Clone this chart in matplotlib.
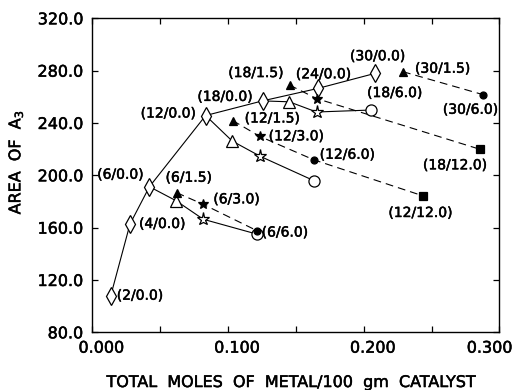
"""
Peak area of A3 against total metal loading.
Open symbols / solid lines and filled symbols / dashed lines,
each point labelled (first metal wt% / second metal wt%).
"""

import matplotlib
matplotlib.use("Agg")
import matplotlib.pyplot as plt
import matplotlib.patheffects as pe
from matplotlib.transforms import ScaledTranslation

# ── data ──────────────────────────────────────────────────────────────────────
# single-metal catalysts (open diamonds)
DIA_COMP = ["2/0.0", "4/0.0", "6/0.0", "12/0.0", "18/0.0", "24/0.0", "30/0.0"]
DIA_X = [0.0136, 0.0278, 0.0421, 0.0835, 0.1254, 0.1665, 0.2086]
DIA_Y = [108.0, 162.8, 191.3, 245.7, 256.9, 266.5, 278.0]

# open symbols, solid lines
OTRI_COMP = ["6/1.5", "12/1.5", "18/1.5"]
OTRI_X = [0.0617, 0.1031, 0.1451]
OTRI_Y = [180.6, 226.2, 256.2]

OSTAR_COMP = ["6/3.0", "12/3.0", "18/3.0"]
OSTAR_X = [0.0818, 0.1238, 0.1652]
OSTAR_Y = [166.4, 214.5, 248.4]

OCIRC_COMP = ["6/6.0", "12/6.0", "18/6.0"]
OCIRC_X = [0.1211, 0.1633, 0.2051]
OCIRC_Y = [155.1, 195.9, 249.9]

# filled symbols, dashed lines
FTRI_COMP = ["6/1.5", "12/1.5", "18/1.5", "30/1.5"]
FTRI_X = [0.0622, 0.1034, 0.1453, 0.2289]
FTRI_Y = [186.7, 241.9, 269.0, 279.2]

FSTAR_COMP = ["6/3.0", "12/3.0", "18/3.0"]
FSTAR_X = [0.0818, 0.1233, 0.1652]
FSTAR_Y = [177.8, 229.8, 258.7]

FCIRC_COMP = ["6/6.0", "12/6.0", "30/6.0"]
FCIRC_X = [0.1211, 0.1631, 0.2881]
FCIRC_Y = [157.8, 211.9, 261.6]

FSQ_COMP = ["12/12.0", "18/12.0"]
FSQ_X = [0.2439, 0.2856]
FSQ_Y = [184.2, 219.9]

# connection order of each curve
SOLID_PATHS = [["6/0.0", "6/1.5", "6/3.0", "6/6.0"],
               ["12/0.0", "12/1.5", "12/3.0", "12/6.0"],
               ["18/0.0", "18/1.5", "18/3.0", "18/6.0"]]
DASHED_PATHS = [["6/1.5", "6/3.0", "6/6.0"],
                ["12/1.5", "12/3.0", "12/6.0", "12/12.0"],
                ["18/1.5", "18/3.0", "18/12.0"],
                ["30/1.5", "30/6.0"]]

X_TICKS = [0.0, 0.1, 0.2, 0.3]
Y_TICKS = [80, 120, 160, 200, 240, 280, 320]

# ── label placement: (set, composition) -> (dx px, dy px, ha) ─────────────────
LABELS = [
    ("dia", "2/0.0", 6, 0, "left"),
    ("dia", "4/0.0", 9, 0, "left"),
    ("dia", "6/0.0", -6, 12, "right"),
    ("dia", "12/0.0", -10, 2, "right"),
    ("dia", "18/0.0", -10, 4, "right"),
    ("dia", "24/0.0", 5, 14, "center"),
    ("dia", "30/0.0", 2, 17, "center"),
    ("ftri", "18/1.5", -6, 12, "right"),
    ("ftri", "30/1.5", 12, 3, "left"),
    ("fcirc", "30/6.0", -13, -15, "center"),
    ("ocirc", "18/6.0", 24, 17, "center"),
    ("fsq", "18/12.0", -25, -16, "center"),
    ("fsq", "12/12.0", -3, -17, "center"),
    ("fcirc", "12/6.0", 6, 5, "left"),
    ("fstar", "12/3.0", 9, 0, "left"),
    ("ftri", "12/1.5", 12, 2, "left"),
    ("ftri", "6/1.5", 12, 15, "center"),
    ("fstar", "6/3.0", 10, 5, "left"),
    ("fcirc", "6/6.0", 5, -2, "left"),
]

# ── style ─────────────────────────────────────────────────────────────────────
LW = 0.8
MEW = 0.9
TICK_FS = 11.5
LABEL_FS = 10
AXIS_FS = 11.5
HEAVY = [pe.withStroke(linewidth=0.35, foreground="k")]  # thickens the glyphs a bit

plt.rcParams.update({
    "font.family": "DejaVu Sans",
    "axes.linewidth": 1.0,
})

fig = plt.figure(figsize=(5.15, 3.9), dpi=100)
ax = fig.add_axes([0.1792, 0.1479, 0.7907, 0.8051])

sets = {
    "dia": dict(zip(DIA_COMP, zip(DIA_X, DIA_Y))),
    "otri": dict(zip(OTRI_COMP, zip(OTRI_X, OTRI_Y))),
    "ostar": dict(zip(OSTAR_COMP, zip(OSTAR_X, OSTAR_Y))),
    "ocirc": dict(zip(OCIRC_COMP, zip(OCIRC_X, OCIRC_Y))),
    "ftri": dict(zip(FTRI_COMP, zip(FTRI_X, FTRI_Y))),
    "fstar": dict(zip(FSTAR_COMP, zip(FSTAR_X, FSTAR_Y))),
    "fcirc": dict(zip(FCIRC_COMP, zip(FCIRC_X, FCIRC_Y))),
    "fsq": dict(zip(FSQ_COMP, zip(FSQ_X, FSQ_Y))),
}
open_pts = {**sets["dia"], **sets["otri"], **sets["ostar"], **sets["ocirc"]}
filled_pts = {**sets["ftri"], **sets["fstar"], **sets["fcirc"], **sets["fsq"]}

# lines first, symbols on top
ax.plot(DIA_X, DIA_Y, color="k", lw=LW, zorder=2)
for path in SOLID_PATHS:
    xs, ys = zip(*[open_pts[c] for c in path])
    ax.plot(xs, ys, color="k", lw=LW, zorder=2)
for path in DASHED_PATHS:
    xs, ys = zip(*[filled_pts[c] for c in path])
    ax.plot(xs, ys, color="k", lw=LW, ls=(0, (7, 4.5)), zorder=2)

open_kw = dict(ls="none", mfc="white", mec="k", mew=MEW, zorder=3)
ax.plot(DIA_X, DIA_Y, marker="d", ms=9, **open_kw)
ax.plot(OTRI_X, OTRI_Y, marker="^", ms=8, **open_kw)
ax.plot(OSTAR_X, OSTAR_Y, marker="*", ms=9.5, **open_kw)
ax.plot(OCIRC_X, OCIRC_Y, marker="o", ms=8, **open_kw)

filled_kw = dict(ls="none", mfc="k", mec="k", mew=MEW, zorder=4)
ax.plot(FTRI_X, FTRI_Y, marker="^", ms=6, **filled_kw)
ax.plot(FSTAR_X, FSTAR_Y, marker="*", ms=7, **filled_kw)
ax.plot(FCIRC_X, FCIRC_Y, marker="o", ms=5, **filled_kw)
ax.plot(FSQ_X, FSQ_Y, marker="s", ms=6, **filled_kw)

for key, comp, dx, dy, ha in LABELS:
    ax.annotate(f"({comp})", xy=sets[key][comp], xytext=(dx, dy),
                textcoords="offset pixels", ha=ha, va="center",
                fontsize=LABEL_FS, zorder=5, path_effects=HEAVY)

# ── axes ──────────────────────────────────────────────────────────────────────
ax.set_xlim(0.0, 0.3)
ax.set_ylim(80, 320)
ax.set_xticks(X_TICKS)
ax.set_xticks([0.05, 0.15, 0.25], minor=True)
ax.set_yticks(Y_TICKS)
ax.set_xticklabels([f"{v:.3f}" for v in X_TICKS])
ax.set_yticklabels([f"{v:.1f}" for v in Y_TICKS])
ax.tick_params(which="both", direction="in", top=True, right=True,
               length=4, width=0.9, labelsize=TICK_FS)
ax.tick_params(axis="x", pad=6)
ax.tick_params(axis="y", pad=6.5)

# x tick labels sit a little right of their ticks, the last one pulled inside
for tick, dx in zip(ax.xaxis.get_major_ticks(), [9, 9, 9, -10]):
    lab = tick.label1
    lab.set_transform(lab.get_transform()
                      + ScaledTranslation(dx / 100, 0, fig.dpi_scale_trans))
for lab in ax.get_xticklabels() + ax.get_yticklabels():
    lab.set_path_effects(HEAVY)

ax.set_xlabel("TOTAL  MOLES  OF  METAL/100  gm  CATALYST", fontsize=AXIS_FS)
ax.set_ylabel("AREA  OF  A$_3$", fontsize=AXIS_FS)
ax.xaxis.set_label_coords(0.490, -0.136)
ax.yaxis.set_label_coords(-0.165, 0.542)
ax.xaxis.label.set_path_effects(HEAVY)
ax.yaxis.label.set_path_effects(HEAVY)

fig.savefig("out.png", dpi=100)
